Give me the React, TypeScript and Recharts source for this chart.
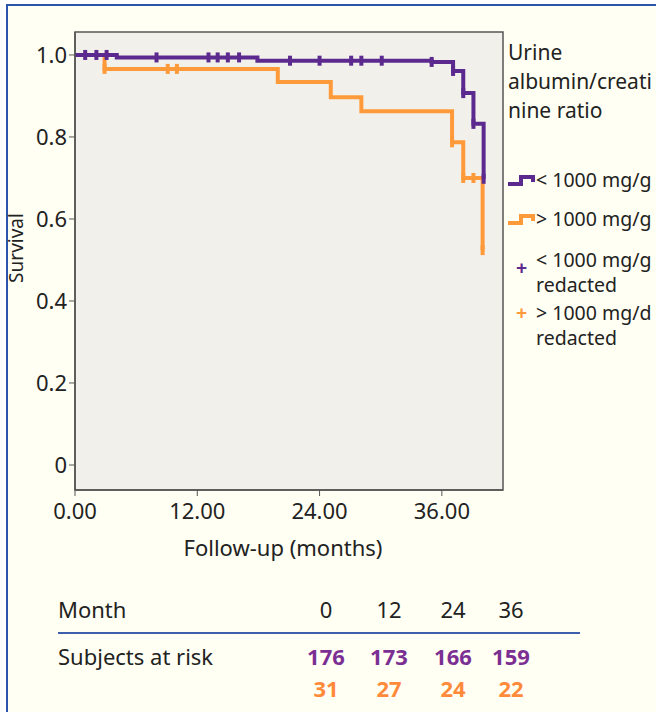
import React from 'react';
import { ComposedChart, Line, Scatter, XAxis, YAxis, ReferenceArea } from 'recharts';

// Kaplan-Meier steps
const lowTimes = [0, 4.1, 17.9, 35.0, 37.1, 38.1, 39.1, 40.1];
const lowSurv = [1.0, 0.994, 0.986, 0.983, 0.961, 0.907, 0.832, 0.698];
const lowCensored = [1.0, 2.1, 3.1, 8.0, 13.1, 14.0, 15.0, 16.1, 21.1, 24.0, 27.1, 28.1, 30.1, 35.0, 37.1, 38.1, 39.1, 40.1];

const highTimes = [0, 2.9, 19.9, 25.1, 28.1, 37.0, 38.1, 40.0];
const highSurv = [1.0, 0.966, 0.934, 0.897, 0.863, 0.787, 0.70, 0.524];
const highCensored = [2.9, 9.1, 10.0, 37.0, 38.1, 39.1, 40.0];

const xTicks = [0, 12, 24, 36];
const yTicks = [0, 0.2, 0.4, 0.6, 0.8, 1.0];

const months = ['0', '12', '24', '36'];
const atRiskLow = [176, 173, 166, 159];
const atRiskHigh = [31, 27, 24, 22];
const colCenters = [326, 389, 453, 511];

const PURPLE = '#5c2a8e';
const ORANGE = '#ff9a3a';
const FONT = '"Noto Sans", sans-serif';

const toRows = (times: number[], surv: number[]) => times.map((t, i) => ({ t, s: surv[i] }));

// survival level of a step curve at time t
const levelAt = (times: number[], surv: number[], t: number) => {
  let s = surv[0];
  times.forEach((tt, i) => {
    if (tt <= t) s = surv[i];
  });
  return s;
};

const lowData = toRows(lowTimes, lowSurv);
const highData = toRows(highTimes, highSurv);
const lowMarks = lowCensored.map((t) => ({ t, s: levelAt(lowTimes, lowSurv, t) }));
const highMarks = highCensored.map((t) => ({ t, s: levelAt(highTimes, highSurv, t) }));

const tick = (color: string) => (props: any) => (
  <rect x={props.cx - 2} y={props.cy - 5} width={4} height={10} fill={color} />
);

const StepIcon = ({ color }: { color: string }) => (
  <svg width={29} height={16} style={{ display: 'block' }}>
    <polyline points="1,12 14,12 14,5 26,5 26,10" fill="none" stroke={color} strokeWidth={4} />
  </svg>
);

const App: React.FC = () => {
  return (
    <div style={{ position: 'absolute', left: 0, top: 0, width: 656, height: 712, background: '#fff', fontFamily: FONT, overflow: 'hidden' }}>
      <div
        style={{
          position: 'absolute', left: 6, top: 4, width: 650, height: 708,
          background: '#fffff3', borderLeft: '2px solid #2b55ad', borderTop: '2px solid #2b55ad',
        }}
      />
      <div style={{ position: 'absolute', left: 0, top: 0 }}>
        <ComposedChart width={656} height={570} margin={{ top: 32, right: 153, left: 15, bottom: 10 }}>
          <XAxis
            dataKey="t"
            type="number"
            domain={[0, 42]}
            ticks={xTicks}
            allowDataOverflow
            height={70}
            tickFormatter={(v: number) => v.toFixed(2)}
            tick={{ fill: '#222', fontSize: 22, fontFamily: FONT }}
            tickSize={6}
            tickMargin={7}
            axisLine={{ stroke: '#555', strokeWidth: 1.5 }}
            tickLine={{ stroke: '#555' }}
            label={(p: any) => (
              <text x={p.viewBox.x + p.viewBox.width / 2 - 6} y={p.viewBox.y + 66} textAnchor="middle" fontSize={22} fill="#222" fontFamily={FONT}>
                Follow-up (months)
              </text>
            )}
          />
          <YAxis
            type="number"
            domain={[-0.061, 1.056]}
            ticks={yTicks}
            allowDataOverflow
            width={60}
            tickFormatter={(v: number) => (v === 0 ? '0' : v.toFixed(1))}
            tick={{ fill: '#222', fontSize: 22, fontFamily: FONT }}
            tickSize={6}
            tickMargin={2}
            axisLine={{ stroke: '#555', strokeWidth: 1.5 }}
            tickLine={{ stroke: '#555' }}
            label={() => (
              <text x={23} y={248} transform="rotate(-90 23 248)" textAnchor="middle" fontSize={19} fill="#222" fontFamily={FONT}>
                Survival
              </text>
            )}
          />
          <ReferenceArea x1={0} x2={42} y1={-0.061} y2={1.056} fill="#f2f0eb" fillOpacity={1} stroke="#555" strokeWidth={1.5} />
          <Line data={highData} dataKey="s" type="stepAfter" stroke={ORANGE} strokeWidth={4} dot={false} isAnimationActive={false} />
          <Scatter data={highMarks} dataKey="s" shape={tick(ORANGE)} isAnimationActive={false} />
          <Line data={lowData} dataKey="s" type="stepAfter" stroke={PURPLE} strokeWidth={4} dot={false} isAnimationActive={false} />
          <Scatter data={lowMarks} dataKey="s" shape={tick(PURPLE)} isAnimationActive={false} />
        </ComposedChart>
      </div>

      {/* legend */}
      <div style={{ position: 'absolute', left: 508, top: 38, fontSize: 21, lineHeight: '29px', color: '#222', whiteSpace: 'nowrap' }}>
        Urine<br />albumin/creati<br />nine ratio
      </div>
      <div style={{ position: 'absolute', left: 507, top: 167, fontSize: 19.5, lineHeight: '25px', color: '#222', whiteSpace: 'nowrap' }}>
        <div style={{ display: 'flex', alignItems: 'center', height: 25 }}>
          <StepIcon color={PURPLE} />
          <span>&lt; 1000 mg/g</span>
        </div>
        <div style={{ display: 'flex', alignItems: 'center', height: 25, marginTop: 14 }}>
          <StepIcon color={ORANGE} />
          <span>&gt; 1000 mg/g</span>
        </div>
        <div style={{ display: 'flex', marginTop: 16 }}>
          <span style={{ width: 29, color: PURPLE, textAlign: 'center', paddingTop: 8, fontWeight: 'bold' }}>+</span>
          <span>&lt; 1000 mg/g<br />redacted</span>
        </div>
        <div style={{ display: 'flex', marginTop: 3 }}>
          <span style={{ width: 29, color: ORANGE, textAlign: 'center', paddingTop: 0, fontWeight: 'bold' }}>+</span>
          <span>&gt; 1000 mg/d<br />redacted</span>
        </div>
      </div>

      {/* subjects at risk table */}
      <div style={{ position: 'absolute', left: 58, top: 594, fontSize: 22, color: '#222' }}>Month</div>
      {months.map((m, i) => (
        <div key={m} style={{ position: 'absolute', left: colCenters[i] - 30, width: 60, textAlign: 'center', top: 594, fontSize: 22, color: '#222' }}>
          {m}
        </div>
      ))}
      <div style={{ position: 'absolute', left: 58, top: 632, width: 522, height: 2, background: '#3d5fac' }} />
      <div style={{ position: 'absolute', left: 58, top: 641, fontSize: 22, color: '#222' }}>Subjects at risk</div>
      {atRiskLow.map((n, i) => (
        <div key={'l' + i} style={{ position: 'absolute', left: colCenters[i] - 30, width: 60, textAlign: 'center', top: 641, fontSize: 22, fontWeight: 'bold', color: '#7c2f93' }}>
          {n}
        </div>
      ))}
      {atRiskHigh.map((n, i) => (
        <div key={'h' + i} style={{ position: 'absolute', left: colCenters[i] - 30, width: 60, textAlign: 'center', top: 673, fontSize: 22, fontWeight: 'bold', color: '#ff8a3a' }}>
          {n}
        </div>
      ))}
    </div>
  );
};

export default App;
